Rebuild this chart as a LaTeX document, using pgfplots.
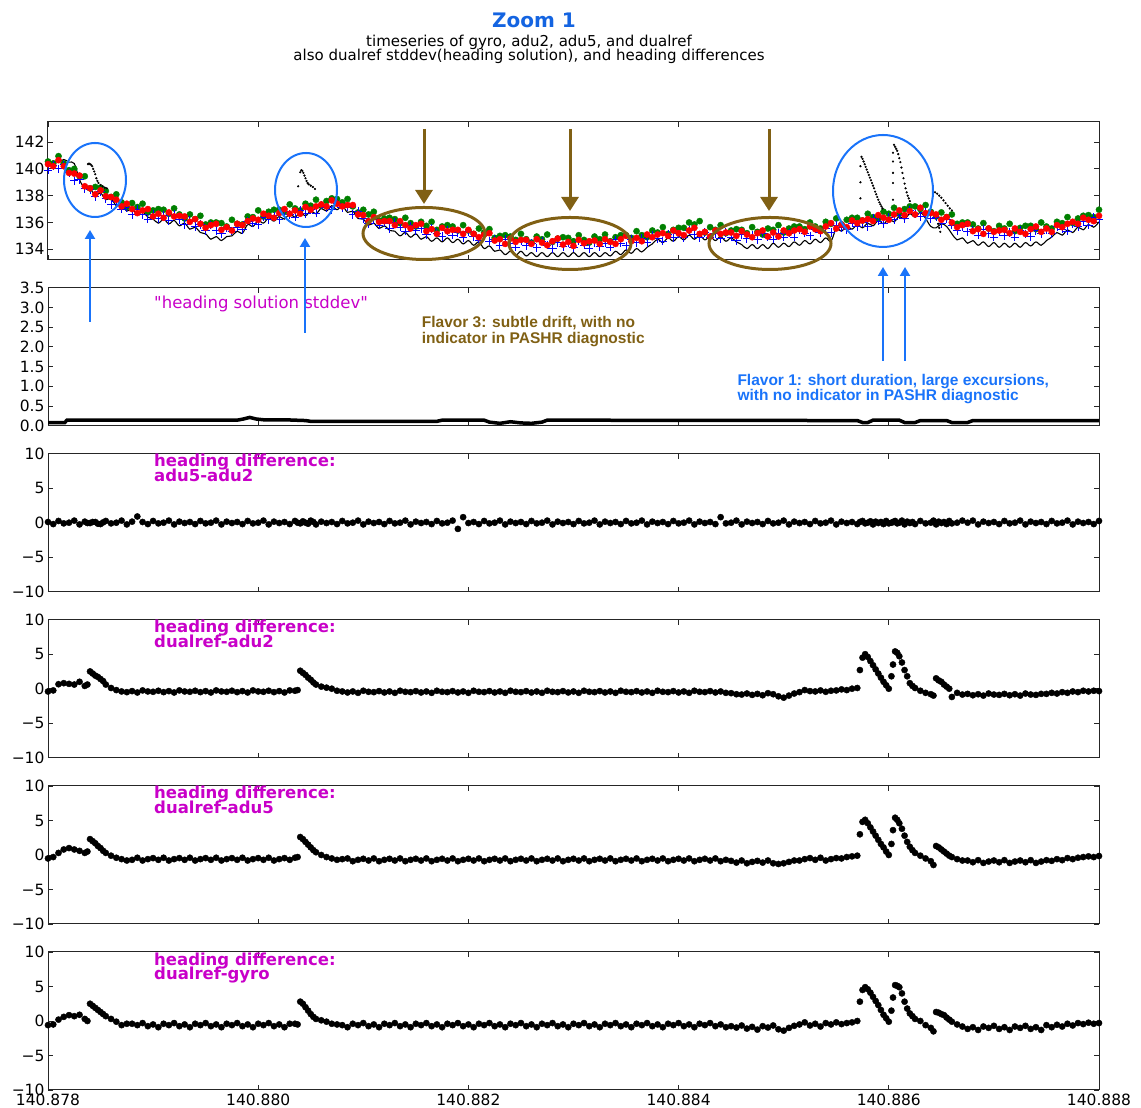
\documentclass[border=0pt]{standalone}
\usepackage{pgfplots}
\pgfplotsset{compat=1.18}
\usepackage{pgfplotstable}
\usetikzlibrary{arrows.meta}
\usepackage{fontspec}
\setmainfont{DejaVu Sans}[Ligatures=TeXOff]
\newfontfamily\annotfont{Liberation Sans}
\definecolor{ttlblue}{RGB}{20,100,225}
\definecolor{anblue}{RGB}{25,115,250}
\definecolor{brn}{RGB}{128,96,20}
\definecolor{mag}{RGB}{200,0,200}
\definecolor{mgreen}{RGB}{0,128,0}

\pgfplotstableread[row sep=\\]{
x k g b r \\
0.00 140.4 140.55 139.9 140.35 \\
0.05 140.6 140.4 140.25 140.2 \\
0.10 140.5 140.95 140.0 140.65 \\
0.15 140.7 140.4 140.3 140.2 \\
0.20 140.5 139.9 139.7 139.7 \\
0.25 140.4 140.0 139.1 139.65 \\
0.30 139.2 139.45 139.2 139.5 \\
0.35 138.55 139.45 138.55 138.7 \\
0.40 138.5 138.55 138.45 138.55 \\
0.45 138.05 138.65 137.95 138.1 \\
0.50 138.2 138.6 138.3 138.4 \\
0.55 137.7 138.35 137.8 137.95 \\
0.60 137.8 137.9 137.35 137.9 \\
0.65 137.25 138.1 137.55 137.7 \\
0.70 137.3 137.5 137.0 137.2 \\
0.75 136.85 137.15 137.1 137.4 \\
0.80 137.0 137.45 136.6 137.0 \\
0.85 136.6 137.15 137.0 136.7 \\
0.90 136.8 137.4 136.6 136.9 \\
0.95 136.4 136.75 136.25 137.0 \\
1.00 136.25 136.9 136.6 136.45 \\
1.05 135.95 137.0 136.3 136.65 \\
1.10 136.25 136.95 136.55 136.35 \\
1.15 135.9 136.65 136.15 136.75 \\
1.20 136.15 137.05 136.6 136.45 \\
1.25 135.75 136.6 136.2 136.5 \\
1.30 135.95 136.3 135.85 136.45 \\
1.35 135.5 136.6 136.15 136.05 \\
1.40 135.65 136.25 135.7 136.25 \\
1.45 135.25 136.5 135.85 135.9 \\
1.50 135.15 135.85 135.4 135.6 \\
1.55 134.75 136.0 135.8 135.8 \\
1.60 134.95 136.0 135.4 135.9 \\
1.65 134.65 135.95 135.15 135.45 \\
1.70 134.95 135.7 135.6 135.65 \\
1.75 135.0 136.2 135.35 135.4 \\
1.80 135.35 135.9 135.65 135.9 \\
1.85 135.2 135.85 135.45 135.8 \\
1.90 135.85 136.45 136.1 136.1 \\
1.95 135.7 136.4 135.95 136.3 \\
2.00 136.15 136.9 135.85 136.2 \\
2.05 135.95 136.45 136.4 136.65 \\
2.10 136.35 136.8 136.2 136.5 \\
2.15 136.1 136.95 136.5 136.35 \\
2.20 136.45 136.95 136.2 136.7 \\
2.25 136.25 136.8 136.8 137.0 \\
2.30 136.65 137.35 136.6 136.65 \\
2.35 136.4 137.05 136.4 136.9 \\
2.40 136.75 136.9 136.9 136.65 \\
2.45 136.5 137.4 136.65 137.15 \\
2.50 136.85 137.25 136.95 136.95 \\
2.55 136.65 137.7 136.7 137.2 \\
2.60 137.05 137.25 137.3 137.35 \\
2.65 136.85 137.6 137.1 137.2 \\
2.70 137.25 137.8 136.95 137.65 \\
2.75 136.95 137.75 137.4 137.4 \\
2.80 137.25 137.5 137.1 137.2 \\
2.85 136.75 137.75 137.15 137.3 \\
2.90 136.85 137.2 136.6 137.3 \\
2.95 136.3 136.75 136.85 136.6 \\
3.00 136.25 136.95 136.3 136.55 \\
3.05 135.8 136.6 135.9 136.1 \\
3.10 135.95 136.8 136.2 136.4 \\
3.15 135.55 136.15 135.8 136.05 \\
3.20 135.75 136.3 135.95 136.1 \\
3.25 135.4 136.35 135.55 136.1 \\
3.30 135.35 136.25 136.0 135.8 \\
3.35 135.0 135.95 135.65 136.1 \\
3.40 135.25 136.35 135.35 135.8 \\
3.45 134.9 135.95 135.75 135.55 \\
3.50 135.15 135.7 135.4 135.8 \\
3.55 134.75 136.05 135.55 135.9 \\
3.60 134.95 135.75 135.1 135.35 \\
3.65 134.6 136.05 135.55 135.5 \\
3.70 134.85 135.45 135.2 135.15 \\
3.75 134.55 135.7 134.95 135.6 \\
3.80 134.85 135.8 135.4 135.35 \\
3.85 134.5 135.7 135.05 135.45 \\
3.90 134.75 135.4 135.25 135.45 \\
3.95 134.4 135.8 134.85 135.15 \\
4.00 134.65 135.4 135.3 135.45 \\
4.05 134.3 135.15 134.95 135.15 \\
4.10 134.55 135.55 134.65 134.9 \\
4.15 134.05 135.25 135.0 135.1 \\
4.20 134.25 135.5 134.6 135.2 \\
4.25 133.85 134.85 134.75 134.65 \\
4.30 133.95 135.0 134.3 134.75 \\
4.35 133.6 135.05 134.75 134.4 \\
4.40 133.85 134.95 134.4 134.8 \\
4.45 133.55 134.7 134.15 134.55 \\
4.50 133.85 135.15 134.6 134.7 \\
4.55 133.5 134.75 134.25 134.7 \\
4.60 133.75 134.5 134.45 134.4 \\
4.65 133.45 134.95 134.1 134.75 \\
4.70 133.75 134.75 134.6 134.5 \\
4.75 133.45 135.1 134.3 134.3 \\
4.80 133.75 134.55 134.05 134.6 \\
4.85 133.45 134.8 134.5 134.8 \\
4.90 133.75 134.9 134.2 134.35 \\
4.95 133.45 134.85 134.45 134.55 \\
5.00 133.75 134.6 134.1 134.25 \\
5.05 133.45 135.05 134.6 134.7 \\
5.10 133.75 134.7 134.3 134.45 \\
5.15 133.45 134.5 134.05 134.6 \\
5.20 133.75 134.95 134.5 134.65 \\
5.25 133.45 134.75 134.2 134.4 \\
5.30 133.75 135.1 134.45 134.75 \\
5.35 133.5 134.6 134.15 134.55 \\
5.40 133.85 134.9 134.7 134.4 \\
5.45 133.6 135.05 134.45 134.75 \\
5.50 133.95 135.05 134.25 135.0 \\
5.55 133.7 134.85 134.75 134.6 \\
5.60 134.05 135.35 134.5 134.85 \\
5.65 133.8 135.05 134.8 134.6 \\
5.70 134.15 134.9 134.5 135.1 \\
5.75 134.4 135.4 135.05 134.9 \\
5.80 134.75 135.25 134.8 135.1 \\
5.85 134.5 135.65 134.6 135.2 \\
5.90 134.85 135.15 135.1 135.0 \\
5.95 134.6 135.45 134.85 135.4 \\
6.00 134.95 135.6 135.15 135.2 \\
6.05 134.7 135.6 134.85 135.05 \\
6.10 135.05 136.0 135.4 135.4 \\
6.15 134.75 135.85 135.1 135.6 \\
6.20 135.05 136.1 134.85 135.15 \\
6.25 134.7 135.25 135.25 135.3 \\
6.30 134.95 135.65 134.9 134.95 \\
6.35 134.65 135.45 135.15 135.4 \\
6.40 134.95 135.8 134.8 135.15 \\
6.45 134.6 135.2 135.25 135.25 \\
6.50 134.85 135.4 134.9 135.25 \\
6.55 134.55 135.5 134.65 135.0 \\
6.60 134.35 135.45 135.1 135.35 \\
6.65 134.05 135.2 134.8 135.1 \\
6.70 134.35 135.65 135.05 134.9 \\
6.75 134.05 135.3 134.7 135.2 \\
6.80 134.35 135.1 135.2 135.4 \\
6.85 134.05 135.55 134.9 134.95 \\
6.90 134.45 135.45 134.75 135.25 \\
6.95 134.15 135.8 135.2 134.95 \\
7.00 134.45 135.25 134.9 135.4 \\
7.05 134.2 135.55 135.2 135.2 \\
7.10 134.55 135.7 134.9 135.4 \\
7.15 134.3 135.7 135.45 135.5 \\
7.20 134.65 135.5 135.2 135.3 \\
7.25 134.4 136.0 135.0 135.7 \\
7.30 134.75 135.7 135.5 135.5 \\
7.35 134.5 135.55 135.25 135.35 \\
7.40 134.85 136.05 135.55 135.7 \\
7.45 134.6 135.9 135.25 135.95 \\
7.50 135.55 136.3 135.8 135.55 \\
7.55 135.35 135.85 135.6 135.85 \\
7.60 135.75 136.2 135.45 135.65 \\
7.65 135.5 136.35 135.95 136.15 \\
7.70 135.85 136.35 135.7 135.95 \\
7.75 135.6 136.15 136.0 136.15 \\
7.80 135.95 136.65 135.7 136.25 \\
7.85 135.75 136.4 136.3 136.1 \\
7.90 136.15 136.3 136.1 136.55 \\
7.95 135.9 136.8 135.9 136.35 \\
8.00 136.25 136.65 136.4 136.2 \\
8.05 136.05 137.1 136.2 136.6 \\
8.10 136.45 136.65 136.55 136.9 \\
8.15 136.25 137.0 136.3 136.55 \\
8.20 136.65 137.2 136.9 136.85 \\
8.25 136.4 137.2 136.65 136.6 \\
8.30 136.75 137.0 136.45 137.1 \\
8.35 136.3 137.3 136.75 136.7 \\
8.40 135.7 136.8 136.3 136.7 \\
8.45 135.6 136.45 136.4 136.6 \\
8.50 135.9 136.75 135.9 136.2 \\
8.55 135.7 136.4 136.25 136.4 \\
8.60 135.15 136.6 135.8 136.0 \\
8.65 134.7 135.9 135.4 135.65 \\
8.70 134.85 136.0 135.7 135.8 \\
8.75 134.45 136.0 135.3 135.9 \\
8.80 134.65 135.85 135.45 135.35 \\
8.85 134.3 135.55 135.05 135.5 \\
8.90 134.55 135.95 135.5 135.15 \\
8.95 134.2 135.55 135.15 135.55 \\
9.00 134.5 135.35 134.9 135.3 \\
9.05 134.15 135.75 135.3 135.4 \\
9.10 134.45 135.55 135.0 135.45 \\
9.15 134.15 135.9 135.25 135.2 \\
9.20 134.45 135.35 134.9 135.55 \\
9.25 134.15 135.6 135.4 135.3 \\
9.30 134.5 135.75 135.15 135.15 \\
9.35 134.25 135.75 134.95 135.5 \\
9.40 134.55 135.5 135.4 135.7 \\
9.45 134.3 136.0 135.15 135.3 \\
9.50 134.65 135.7 135.45 135.55 \\
9.55 134.9 135.55 135.15 135.3 \\
9.60 135.25 136.05 135.7 135.8 \\
9.65 135.05 135.95 135.5 135.65 \\
9.70 135.45 136.4 135.35 135.9 \\
9.75 135.25 135.95 135.9 136.05 \\
9.80 135.65 136.3 135.7 135.9 \\
9.85 135.45 136.5 136.05 136.35 \\
9.90 135.85 136.55 135.8 136.2 \\
9.95 135.65 136.4 136.4 136.1 \\
10.00 136.05 136.95 136.2 136.5 \\
}\hdg

\pgfplotstableread[row sep=\\]{
x y \\
0.38 140.35 \\ 0.39 140.4 \\ 0.40 140.35 \\ 0.41 140.3 \\ 0.42 140.2 \\ 0.43 140.0 \\
0.44 139.8 \\ 0.45 139.6 \\ 0.46 139.3 \\ 0.47 139.1 \\ 0.48 138.95 \\ 0.50 138.8 \\
0.52 138.7 \\ 0.54 138.6 \\ 0.56 138.55 \\
2.38 138.7 \\ 2.40 139.75 \\ 2.41 139.9 \\ 2.42 139.85 \\ 2.43 139.7 \\ 2.44 139.5 \\
2.45 139.3 \\ 2.46 139.1 \\ 2.47 138.95 \\ 2.48 138.85 \\ 2.50 138.75 \\ 2.52 138.65 \\ 2.54 138.5 \\
7.73 140.2 \\ 7.73 139.0 \\ 7.73 137.8 \\ 7.74 140.9 \\ 7.75 140.75 \\ 7.76 140.55 \\
7.77 140.35 \\ 7.78 140.15 \\ 7.79 139.95 \\ 7.80 139.75 \\ 7.81 139.55 \\ 7.82 139.35 \\
7.83 139.15 \\ 7.84 138.95 \\ 7.85 138.75 \\ 7.86 138.55 \\ 7.87 138.3 \\ 7.88 138.1 \\
7.89 137.9 \\ 7.90 137.7 \\ 7.91 137.5 \\ 7.92 137.35 \\ 7.93 137.2 \\ 7.94 137.05 \\
8.04 141.2 \\ 8.04 140.55 \\ 8.04 139.7 \\ 8.04 138.95 \\ 8.04 137.7 \\
8.05 141.8 \\ 8.06 141.65 \\ 8.07 141.5 \\ 8.08 141.35 \\ 8.09 141.1 \\ 8.10 140.8 \\
8.11 140.5 \\ 8.12 140.1 \\ 8.13 139.7 \\ 8.14 139.3 \\ 8.15 138.9 \\ 8.16 138.55 \\
8.17 138.25 \\ 8.18 138.0 \\ 8.19 137.8 \\ 8.20 137.6 \\
8.44 138.25 \\ 8.46 138.15 \\ 8.48 138.0 \\ 8.50 137.85 \\ 8.52 137.65 \\ 8.54 137.45 \\
8.56 137.25 \\ 8.58 137.05 \\ 8.60 136.9 \\
8.47 135.9 \\ 8.48 135.6 \\ 8.49 135.3 \\
}\kex

\pgfplotstableread[row sep=\\]{
x a c e f \\
0.00 0.1 -0.4 -0.5 -0.6 \\
0.05 -0.2 -0.25 -0.3 -0.5 \\
0.10 0.25 0.65 0.3 0.2 \\
0.15 -0.1 0.8 0.8 0.6 \\
0.20 0.0 0.7 1.0 0.85 \\
0.25 0.3 0.6 0.8 0.7 \\
0.30 -0.25 1.0 0.6 0.9 \\
0.35 0.15 0.4 0.3 0.3 \\
0.375 -0.05 0.6 0.5 0.0 \\
0.40 -0.05 2.5 2.3 2.5 \\
0.425 0.1 2.2 2.0 2.2 \\
0.45 0.1 1.9 1.7 1.9 \\
0.475 -0.15 1.7 1.3 1.6 \\
0.50 -0.2 1.4 1.0 1.3 \\
0.525 0.05 1.1 0.6 1.0 \\
0.55 0.25 0.6 0.3 0.7 \\
0.60 -0.1 0.1 -0.1 0.3 \\
0.65 0.0 -0.2 -0.4 -0.1 \\
0.70 0.3 -0.4 -0.6 -0.6 \\
0.75 -0.25 -0.5 -0.8 -0.4 \\
0.80 0.15 -0.35 -0.7 -0.4 \\
0.85 0.9 -0.55 -0.4 -0.6 \\
0.90 0.1 -0.25 -0.8 -0.3 \\
0.95 -0.2 -0.4 -0.6 -0.75 \\
1.00 0.25 -0.45 -0.45 -0.5 \\
1.05 -0.1 -0.3 -0.7 -0.9 \\
1.10 0.0 -0.5 -0.4 -0.4 \\
1.15 0.3 -0.35 -0.8 -0.6 \\
1.20 -0.25 -0.55 -0.6 -0.3 \\
1.25 0.15 -0.25 -0.45 -0.75 \\
1.30 -0.05 -0.4 -0.7 -0.5 \\
1.35 0.1 -0.45 -0.4 -0.9 \\
1.40 -0.2 -0.3 -0.8 -0.4 \\
1.45 0.25 -0.5 -0.6 -0.6 \\
1.50 -0.1 -0.35 -0.45 -0.3 \\
1.55 0.0 -0.55 -0.7 -0.75 \\
1.60 0.3 -0.25 -0.4 -0.5 \\
1.65 -0.25 -0.4 -0.8 -0.9 \\
1.70 0.15 -0.45 -0.6 -0.4 \\
1.75 -0.05 -0.3 -0.45 -0.6 \\
1.80 0.1 -0.5 -0.7 -0.3 \\
1.85 -0.2 -0.35 -0.4 -0.75 \\
1.90 0.25 -0.55 -0.8 -0.5 \\
1.95 -0.1 -0.25 -0.6 -0.9 \\
2.00 0.0 -0.4 -0.45 -0.4 \\
2.05 0.3 -0.45 -0.7 -0.6 \\
2.10 -0.25 -0.3 -0.4 -0.3 \\
2.15 0.15 -0.5 -0.8 -0.75 \\
2.20 -0.05 -0.35 -0.6 -0.5 \\
2.25 0.1 -0.55 -0.45 -0.9 \\
2.30 -0.2 -0.25 -0.7 -0.4 \\
2.35 0.25 -0.3 -0.4 -0.4 \\
2.375 0.0 -0.2 -0.3 -0.5 \\
2.40 -0.1 2.6 2.6 2.8 \\
2.425 0.2 2.3 2.3 2.5 \\
2.45 0.0 2.0 1.9 2.0 \\
2.475 -0.15 1.6 1.5 1.5 \\
2.50 0.3 1.3 1.1 1.0 \\
2.525 0.1 0.9 0.7 0.6 \\
2.55 -0.25 0.6 0.4 0.3 \\
2.60 0.15 0.3 0.0 0.1 \\
2.65 -0.05 0.15 -0.3 -0.1 \\
2.70 0.1 0.0 -0.5 -0.4 \\
2.75 -0.2 -0.3 -0.7 -0.5 \\
2.80 0.25 -0.4 -0.6 -0.6 \\
2.85 -0.1 -0.55 -0.5 -0.9 \\
2.90 0.0 -0.4 -0.9 -0.4 \\
2.95 0.3 -0.6 -0.7 -0.6 \\
3.00 -0.25 -0.3 -0.55 -0.3 \\
3.05 0.15 -0.45 -0.8 -0.75 \\
3.10 -0.05 -0.5 -0.5 -0.5 \\
3.15 0.1 -0.35 -0.9 -0.9 \\
3.20 -0.2 -0.55 -0.7 -0.4 \\
3.25 0.25 -0.4 -0.55 -0.6 \\
3.30 -0.1 -0.6 -0.8 -0.3 \\
3.35 0.0 -0.3 -0.5 -0.75 \\
3.40 0.3 -0.45 -0.9 -0.5 \\
3.45 -0.25 -0.5 -0.7 -0.9 \\
3.50 0.15 -0.35 -0.55 -0.4 \\
3.55 -0.05 -0.55 -0.8 -0.6 \\
3.60 0.1 -0.4 -0.5 -0.3 \\
3.65 -0.2 -0.6 -0.9 -0.75 \\
3.70 0.25 -0.3 -0.7 -0.5 \\
3.75 -0.1 -0.45 -0.55 -0.9 \\
3.80 0.0 -0.5 -0.8 -0.4 \\
3.85 0.3 -0.35 -0.5 -0.6 \\
3.90 -0.9 -0.55 -0.9 -0.3 \\
3.95 0.8 -0.4 -0.7 -0.75 \\
4.00 -0.05 -0.6 -0.55 -0.5 \\
4.05 0.1 -0.3 -0.8 -0.9 \\
4.10 -0.2 -0.45 -0.5 -0.4 \\
4.15 0.25 -0.5 -0.9 -0.6 \\
4.20 -0.1 -0.35 -0.7 -0.3 \\
4.25 0.0 -0.55 -0.55 -0.75 \\
4.30 0.3 -0.4 -0.8 -0.5 \\
4.35 -0.25 -0.6 -0.5 -0.9 \\
4.40 0.15 -0.3 -0.9 -0.4 \\
4.45 -0.05 -0.45 -0.7 -0.6 \\
4.50 0.1 -0.5 -0.55 -0.3 \\
4.55 -0.2 -0.35 -0.8 -0.75 \\
4.60 0.25 -0.55 -0.5 -0.5 \\
4.65 -0.1 -0.4 -0.9 -0.9 \\
4.70 0.0 -0.6 -0.7 -0.4 \\
4.75 0.3 -0.3 -0.55 -0.6 \\
4.80 -0.25 -0.45 -0.8 -0.3 \\
4.85 0.15 -0.5 -0.5 -0.75 \\
4.90 -0.05 -0.35 -0.9 -0.5 \\
4.95 0.1 -0.55 -0.7 -0.9 \\
5.00 -0.2 -0.4 -0.55 -0.4 \\
5.05 0.25 -0.6 -0.8 -0.6 \\
5.10 -0.1 -0.3 -0.5 -0.3 \\
5.15 0.0 -0.45 -0.9 -0.75 \\
5.20 0.3 -0.5 -0.7 -0.5 \\
5.25 -0.25 -0.35 -0.55 -0.9 \\
5.30 0.15 -0.55 -0.8 -0.4 \\
5.35 -0.05 -0.4 -0.5 -0.6 \\
5.40 0.1 -0.6 -0.9 -0.3 \\
5.45 -0.2 -0.3 -0.7 -0.75 \\
5.50 0.25 -0.45 -0.55 -0.5 \\
5.55 -0.1 -0.5 -0.8 -0.9 \\
5.60 0.0 -0.35 -0.5 -0.4 \\
5.65 0.3 -0.55 -0.9 -0.6 \\
5.70 -0.25 -0.4 -0.7 -0.3 \\
5.75 0.15 -0.6 -0.55 -0.75 \\
5.80 -0.05 -0.3 -0.8 -0.5 \\
5.85 0.1 -0.45 -0.5 -0.9 \\
5.90 -0.2 -0.5 -0.9 -0.4 \\
5.95 0.25 -0.35 -0.7 -0.6 \\
6.00 -0.1 -0.55 -0.55 -0.3 \\
6.05 0.0 -0.4 -0.8 -0.75 \\
6.10 0.3 -0.6 -0.5 -0.5 \\
6.15 -0.25 -0.3 -0.9 -0.9 \\
6.20 0.15 -0.45 -0.7 -0.4 \\
6.25 -0.05 -0.5 -0.55 -0.6 \\
6.30 0.1 -0.35 -0.8 -0.3 \\
6.35 -0.2 -0.55 -0.5 -0.75 \\
6.40 0.8 -0.4 -0.9 -0.5 \\
6.45 -0.1 -0.6 -0.7 -0.9 \\
6.50 0.0 -0.65 -0.85 -0.75 \\
6.55 0.3 -0.8 -1.1 -0.95 \\
6.60 -0.25 -0.85 -0.8 -0.65 \\
6.65 0.15 -0.7 -1.2 -1.1 \\
6.70 -0.05 -0.9 -1.0 -0.85 \\
6.75 0.1 -0.75 -0.85 -1.25 \\
6.80 -0.2 -0.95 -1.1 -0.75 \\
6.85 0.25 -0.65 -0.8 -0.95 \\
6.90 -0.1 -0.8 -1.2 -0.65 \\
6.95 0.0 -1.1 -1.3 -1.2 \\
7.00 0.3 -1.3 -1.2 -1.4 \\
7.05 -0.25 -1.0 -1.0 -1.0 \\
7.10 0.15 -0.7 -0.8 -0.7 \\
7.15 -0.05 -0.5 -0.8 -0.5 \\
7.20 0.1 -0.2 -0.6 -0.2 \\
7.25 -0.2 -0.35 -0.45 -0.65 \\
7.30 0.25 -0.4 -0.7 -0.4 \\
7.35 -0.1 -0.25 -0.4 -0.8 \\
7.40 0.0 -0.45 -0.8 -0.3 \\
7.45 0.3 -0.3 -0.6 -0.5 \\
7.50 -0.25 -0.25 -0.45 -0.2 \\
7.55 0.15 -0.1 -0.5 -0.45 \\
7.60 -0.05 -0.2 -0.3 -0.3 \\
7.65 0.1 0.0 -0.2 -0.2 \\
7.70 -0.2 0.1 -0.1 0.0 \\
7.725 0.1 2.7 3.0 2.8 \\
7.75 0.25 4.5 4.8 4.5 \\
7.775 -0.1 5.0 5.1 4.9 \\
7.80 0.0 4.6 4.6 4.6 \\
7.825 0.2 4.0 4.0 4.1 \\
7.85 -0.25 3.4 3.4 3.5 \\
7.875 0.15 2.8 2.8 2.9 \\
7.90 -0.05 2.2 2.2 2.3 \\
7.925 0.1 1.6 1.6 1.6 \\
7.95 -0.2 1.0 1.1 0.9 \\
7.975 0.25 0.5 0.5 0.4 \\
8.00 -0.1 0.0 0.0 -0.1 \\
8.025 0.0 1.8 1.6 1.5 \\
8.04 0.1 3.5 3.6 3.4 \\
8.06 0.25 5.4 5.4 5.2 \\
8.08 -0.1 5.2 5.1 5.1 \\
8.10 0.0 4.7 4.6 4.9 \\
8.125 0.3 3.8 3.8 4.0 \\
8.15 -0.25 2.7 2.8 2.8 \\
8.175 0.15 1.8 1.9 1.8 \\
8.20 -0.05 0.8 1.2 1.1 \\
8.225 0.1 0.4 0.7 0.7 \\
8.25 -0.2 0.1 0.3 0.3 \\
8.30 0.25 -0.3 -0.1 0.0 \\
8.35 -0.1 -0.6 -0.5 -0.6 \\
8.40 0.0 -0.8 -0.9 -1.0 \\
8.425 0.3 -1.0 -1.45 -1.5 \\
8.45 -0.25 1.5 1.3 1.3 \\
8.475 0.15 1.2 1.1 1.2 \\
8.50 -0.05 1.0 0.8 1.0 \\
8.525 0.1 0.6 0.5 0.85 \\
8.55 -0.2 0.3 0.2 0.5 \\
8.575 0.25 0.0 -0.1 0.2 \\
8.60 -0.1 -1.2 -0.3 -0.1 \\
8.65 0.0 -0.6 -0.6 -0.5 \\
8.70 0.3 -0.85 -0.8 -0.8 \\
8.75 0.0 -0.75 -0.8 -1.15 \\
8.80 0.3 -0.95 -1.05 -0.9 \\
8.85 -0.25 -0.8 -0.75 -1.3 \\
8.90 0.15 -1.0 -1.15 -0.8 \\
8.95 -0.05 -0.7 -0.95 -1.0 \\
9.00 0.1 -0.85 -0.8 -0.7 \\
9.05 -0.2 -0.9 -1.05 -1.15 \\
9.10 0.25 -0.75 -0.75 -0.9 \\
9.15 -0.1 -0.95 -1.15 -1.3 \\
9.20 0.0 -0.8 -0.95 -0.8 \\
9.25 0.3 -1.0 -0.8 -1.0 \\
9.30 -0.25 -0.7 -1.05 -0.7 \\
9.35 0.15 -0.85 -0.75 -1.15 \\
9.40 -0.05 -0.9 -1.15 -0.9 \\
9.45 0.1 -0.75 -0.95 -1.3 \\
9.50 -0.2 -0.75 -0.75 -0.6 \\
9.55 0.25 -0.6 -0.85 -0.9 \\
9.60 -0.1 -0.7 -0.6 -0.55 \\
9.65 0.0 -0.5 -0.75 -0.8 \\
9.70 0.3 -0.6 -0.45 -0.4 \\
9.75 -0.25 -0.4 -0.6 -0.65 \\
9.80 0.15 -0.5 -0.4 -0.3 \\
9.85 -0.05 -0.3 -0.3 -0.45 \\
9.90 0.1 -0.4 -0.2 -0.25 \\
9.95 -0.2 -0.3 -0.3 -0.4 \\
10.00 0.25 -0.35 -0.15 -0.3 \\
}\dif

\pgfplotsset{panel/.style={
  scale only axis, width=1051pt, height=138pt, anchor=south west,
  xmin=0, xmax=10, xtick={0,2,4,6,8,10}, xticklabels={},
  tick align=inside, major tick length=5pt,
  axis line style={line width=1pt, black!85},
  every tick/.style={black!85, line width=0.8pt},
  tick label style={font=\fontsize{15.5}{18}\selectfont},
}}
\pgfplotsset{diffpanel/.style={panel, ymin=-10, ymax=10, ytick={-10,-5,0,5,10},
  yticklabels={−10,−5,0,5,10}}}
\pgfplotsset{dots/.style={only marks, mark=*, mark size=3.1pt, black}}

\begin{document}
\begin{tikzpicture}
\useasboundingbox (0pt,0pt) rectangle (1141pt,1108pt);

% ---- Panel 1: headings
\begin{axis}[panel, at={(48pt,848pt)}, ymin=133.2, ymax=143.5,
  ytick={134,136,138,140,142}, yticklabels={134,136,138,140,142}]
\addplot[black, line width=1.1pt, smooth, tension=0.6] table[x=x,y=k]{\hdg};
\addplot[only marks, mark=*, mark size=3.1pt, mgreen] table[x=x,y=g]{\hdg};
\addplot[only marks, mark=+, mark size=4.2pt, blue, mark options={line width=0.9pt}] table[x=x,y=b]{\hdg};
\addplot[only marks, mark=*, mark size=3.1pt, red] table[x=x,y=r]{\hdg};
\addplot[only marks, mark=*, mark size=0.9pt, black] table[x=x,y=y]{\kex};
\end{axis}

% ---- Panel 2: stddev
\begin{axis}[panel, at={(48pt,682.3pt)}, ymin=0, ymax=3.5,
  ytick={0,0.5,1,1.5,2,2.5,3,3.5}, yticklabels={0.0,0.5,1.0,1.5,2.0,2.5,3.0,3.5}]
\addplot[black, line width=3.5pt] coordinates {
(0,0.08) (0.16,0.08) (0.18,0.14) (1.8,0.14) (1.86,0.17) (1.92,0.21) (1.98,0.17)
(2.05,0.15) (2.25,0.15) (2.45,0.13) (2.5,0.11) (3.7,0.11) (3.75,0.14) (4.15,0.14)
(4.2,0.09) (4.3,0.06) (4.4,0.1) (4.5,0.07) (4.6,0.06) (4.7,0.09) (4.75,0.14)
(7.7,0.13) (7.75,0.08) (7.8,0.08) (7.85,0.14) (8.1,0.14) (8.15,0.08) (8.25,0.08)
(8.3,0.13) (8.55,0.13) (8.6,0.08) (8.75,0.08) (8.8,0.13) (10,0.13)};
\end{axis}

% ---- Panel 3: adu5-adu2
\begin{axis}[diffpanel, at={(48pt,516.3pt)}]
\addplot[dots] table[x=x,y=a]{\dif};
\end{axis}

% ---- Panel 4: dualref-adu2
\begin{axis}[diffpanel, at={(48pt,350.3pt)}]
\addplot[dots] table[x=x,y=c]{\dif};
\end{axis}

% ---- Panel 5: dualref-adu5
\begin{axis}[diffpanel, at={(48pt,184pt)}]
\addplot[dots] table[x=x,y=e]{\dif};
\end{axis}

% ---- Panel 6: dualref-gyro
\begin{axis}[diffpanel, at={(48pt,18pt)},
  xticklabels={140.878,140.880,140.882,140.884,140.886,140.888}]
\addplot[dots] table[x=x,y=f]{\dif};
\end{axis}

% ---- Titles
\node[anchor=base, inner sep=0, text=ttlblue, font=\fontsize{20}{22}\selectfont\bfseries] at (534pt,1080pt) {Zoom 1};
\node[anchor=base, inner sep=0, font=\fontsize{15}{16}\selectfont] at (529pt,1061.5pt) {timeseries of gyro, adu2, adu5, and dualref};
\node[anchor=base, inner sep=0, font=\fontsize{15}{16}\selectfont] at (529pt,1047.5pt) {also dualref stddev(heading solution), and heading differences};

% ---- Panel labels
\node[anchor=base west, inner sep=0, text=mag, font=\fontsize{16.5}{18}\selectfont] at (154pt,799pt) {"heading solution stddev"};
\foreach \yy/\lab in {641.2/adu5-adu2, 475.2/dualref-adu2, 309.2/dualref-adu5, 142.8/dualref-gyro}{
  \node[anchor=base west, inner sep=0, text=mag, font=\fontsize{16.5}{18}\selectfont\bfseries] at (154pt,\yy pt) {heading difference:};
  \node[anchor=base west, inner sep=0, text=mag, font=\fontsize{16.5}{18}\selectfont\bfseries] at (154pt,\yy pt-14.5pt) {\lab};
}

% ---- Flavor 3 annotations (brown)
\foreach \cx/\cy in {424/874.5, 570/864.5, 770/864.5}{
  \draw[brn, line width=3pt] (\cx pt,\cy pt) ellipse [x radius=61pt, y radius=26pt];
}
\draw[brn, line width=3pt, -{Triangle[width=17pt,length=14pt]}] (424pt,979pt) -- (424pt,904pt);
\draw[brn, line width=3pt, -{Triangle[width=17pt,length=14pt]}] (570pt,979pt) -- (570pt,897pt);
\draw[brn, line width=3pt, -{Triangle[width=17pt,length=14pt]}] (769pt,979pt) -- (769pt,897pt);
\node[anchor=base west, inner sep=0, text=brn, font=\annotfont\fontsize{15.5}{17}\selectfont\bfseries] at (421.7pt,780.7pt) {Flavor 3: subtle drift, with no};
\node[anchor=base west, inner sep=0, text=brn, font=\annotfont\fontsize{15.5}{17}\selectfont\bfseries] at (421.7pt,764.7pt) {indicator in PASHR diagnostic};

% ---- Flavor 1 annotations (blue)
\draw[anblue, line width=2pt] (95pt,928pt) ellipse [x radius=31pt, y radius=37pt];
\draw[anblue, line width=2pt] (306pt,918pt) ellipse [x radius=31pt, y radius=37pt];
\draw[anblue, line width=2pt] (883pt,917pt) ellipse [x radius=50pt, y radius=56pt];
\draw[anblue, line width=2pt, -{Triangle[width=10pt,length=9pt]}] (90pt,786pt) -- (90pt,878pt);
\draw[anblue, line width=2pt, -{Triangle[width=10pt,length=9pt]}] (305pt,775pt) -- (305pt,870pt);
\draw[anblue, line width=2pt, -{Triangle[width=10pt,length=9pt]}] (883pt,747pt) -- (883pt,841pt);
\draw[anblue, line width=2pt, -{Triangle[width=10pt,length=9pt]}] (905pt,747pt) -- (905pt,841pt);
\node[anchor=base west, inner sep=0, text=anblue, font=\annotfont\fontsize{15.5}{17}\selectfont\bfseries] at (737.3pt,722.3pt) {Flavor 1: short duration, large excursions,};
\node[anchor=base west, inner sep=0, text=anblue, font=\annotfont\fontsize{15.5}{17}\selectfont\bfseries] at (737.3pt,707.3pt) {with no indicator in PASHR diagnostic};
\end{tikzpicture}
\end{document}
